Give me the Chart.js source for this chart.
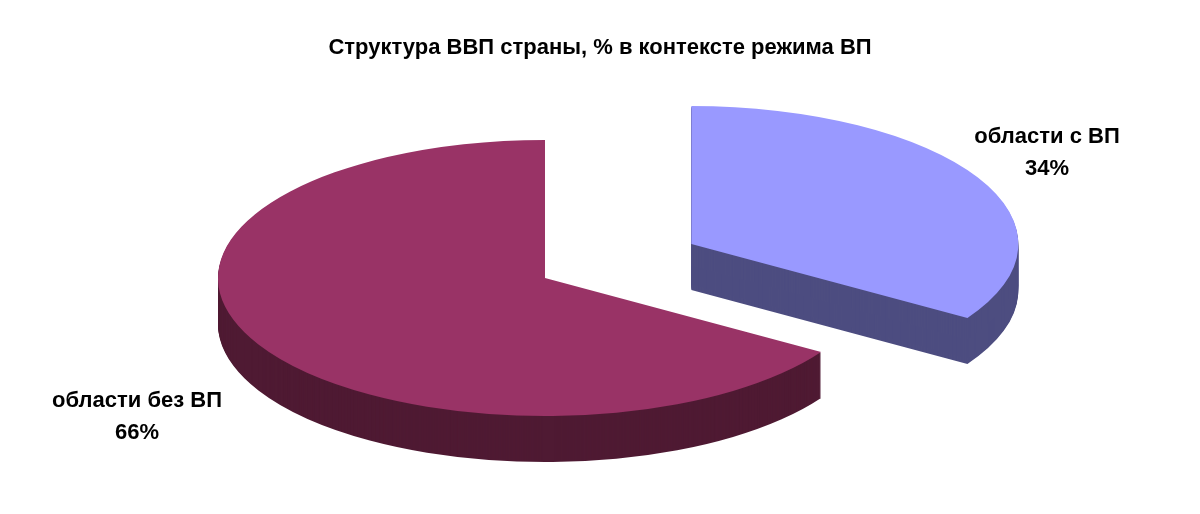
<!DOCTYPE html>
<html>
<head>
<meta charset="utf-8">
<script src="https://cdn.jsdelivr.net/npm/chart.js@4/dist/chart.umd.min.js"></script>
<style>
  html, body { margin: 0; padding: 0; background: #fff; }
  #wrap { width: 1200px; height: 514px; }
</style>
</head>
<body>
<div id="wrap"><canvas id="pieChart"></canvas></div>
<script>
const categories = ['области с ВП', 'области без ВП'];
const shares = [34, 66];
const topColors = ['#9999ff', '#993366'];
const sideColors = ['#4d4d80', '#4f1a33'];
const explode = [167, 0];

// fake 3d: flatten the pie to an ellipse and stack the side under it
const pie3d = {
  id: 'pie3d',
  beforeDatasetsDraw(chart) {
    const ctx = chart.ctx;
    const arcs = chart.getDatasetMeta(0).data;
    const cx = 545, cy = 278, rx = 327, ry = 138, depth = 46;
    const drawArc = (arc, i, dy, color) => {
      const R = arc.outerRadius;
      const mid = (arc.startAngle + arc.endAngle) / 2;
      const ox = explode[i] * Math.cos(mid);
      const oy = explode[i] * Math.sin(mid) * ry / rx;
      const saved = arc.options.backgroundColor;
      arc.options.backgroundColor = color;
      ctx.save();
      ctx.translate(cx + ox, cy + oy + dy);
      ctx.scale(rx / R, ry / R);
      ctx.translate(-arc.x, -arc.y);
      arc.draw(ctx);
      ctx.restore();
      arc.options.backgroundColor = saved;
    };
    arcs.forEach((arc, i) => {
      for (let k = depth; k > 0; k--) drawArc(arc, i, k, sideColors[i]);
    });
    arcs.forEach((arc, i) => drawArc(arc, i, 0, topColors[i]));

    const total = shares.reduce((a, b) => a + b, 0);
    ctx.save();
    ctx.fillStyle = '#000';
    ctx.font = 'bold 22px "Liberation Sans", Arial, sans-serif';
    ctx.textAlign = 'center';
    ctx.textBaseline = 'middle';
    const spots = [[1047, 137], [137, 401]];
    arcs.forEach((arc, i) => {
      const pct = Math.round(shares[i] / total * 100) + '%';
      ctx.fillText(categories[i], spots[i][0], spots[i][1]);
      ctx.fillText(pct, spots[i][0], spots[i][1] + 32);
    });
    ctx.restore();
    return false;
  }
};

const ctx = document.getElementById('pieChart').getContext('2d');
const myChart = new Chart(ctx, {
  type: 'pie',
  data: {
    labels: categories,
    datasets: [{
      data: shares,
      backgroundColor: topColors,
      borderWidth: 0
    }]
  },
  options: {
    responsive: true,
    maintainAspectRatio: false,
    animation: false,
    layout: { padding: { top: 10 } },
    plugins: {
      legend: { display: false },
      tooltip: { enabled: false },
      title: {
        display: true,
        text: 'Структура ВВП страны, % в контексте режима ВП',
        color: '#000',
        font: { family: '"Liberation Sans", Arial, sans-serif', size: 22, weight: 'bold' },
        padding: { top: 25, bottom: 10 }
      }
    }
  },
  plugins: [pie3d]
});
</script>
</body>
</html>
